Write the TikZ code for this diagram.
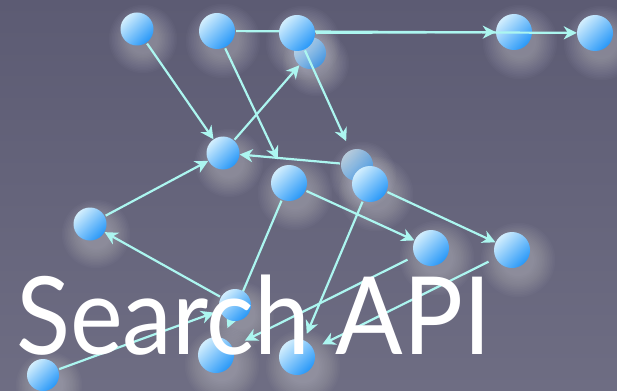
\documentclass[tikz,border=0pt]{standalone}
\usepackage{fontspec}
\newfontfamily\titlefont{Lato}
\usetikzlibrary{arrows.meta}
\pgfdeclarelayer{back}
\pgfdeclarelayer{ghost}
\pgfdeclarelayer{low}
\pgfdeclarelayer{edges}
\pgfdeclarelayer{front}
\pgfsetlayers{back,ghost,low,edges,main,front}

\definecolor{bgtop}{RGB}{92,91,115}
\definecolor{bgbot}{RGB}{110,109,131}
\definecolor{balllight}{RGB}{210,238,253}
\definecolor{balldark}{RGB}{40,152,248}
\definecolor{linkcol}{RGB}{172,246,240}

\tikzset{
  ball/.style={circle, inner sep=0pt, minimum size=#1,
    top color=balllight, bottom color=balldark, shading angle=45},
  ball/.default=36pt,
  ghostball/.style={ball=#1, opacity=0.72},
  ghostball/.default=32pt,
  link/.style={draw=linkcol, line width=2.2pt,
    -{Stealth[length=13pt,width=13pt,inset=4pt]}, shorten <=1pt},
  title/.style={text=white, inner sep=0pt, anchor=base west,
    font=\titlefont\fontsize{108}{108}\selectfont}
}

\begin{document}
\begin{tikzpicture}[x=1pt,y=-1pt]
\useasboundingbox (0,0) rectangle (617,390);

% backdrop
\begin{pgfonlayer}{back}
  \shade[top color=bgtop, bottom color=bgbot] (0,0) rectangle (617,390);
\end{pgfonlayer}

% nodes
\node[ball=33pt] (n1)  at (137,29)  {};
\node[ball]      (n2)  at (217,31)  {};
\node[ball]      (n3)  at (297,33)  {};
\begin{pgfonlayer}{ghost}
  \node[ghostball] (g1) at (310,53)  {};
  \node[ghostball] (g2) at (357,165) {};
\end{pgfonlayer}
\begin{pgfonlayer}{low}
  \node[ball]    (n4)  at (514,32)  {};
\end{pgfonlayer}
\node[ball]      (n5)  at (595,33)  {};
\node[ball=33pt] (n6)  at (223,153) {};
\node[ball]      (n8)  at (289,183) {};
\node[ball]      (n9)  at (370,184) {};
\node[ball=33pt] (n10) at (90,224)  {};
\node[ball]      (n11) at (431,248) {};
\node[ball]      (n12) at (512,250) {};
\node[ball=32pt] (n13) at (235,305) {};
\node[ball]      (n14) at (216,355) {};
\node[ball]      (n15) at (297,357) {};
\node[ball=32pt] (n16) at (43,375)  {};

% soft glow under each ball, thrown down and to the right
\begin{pgfonlayer}{back}
  \foreach \p/\r in {n1/16.5,n2/18,n3/18,g1/16,n4/18,n5/18,n6/16.5,g2/16,
                     n8/18,n9/18,n10/16.5,n11/18,n12/18,n13/16,n14/18,n15/18,n16/16}{
    \foreach \k in {0,...,13}{
      \pgfmathsetmacro\rr{\r*(0.9+0.09*\k)}
      \fill[white,opacity=0.022] ([shift={(6,10)}]\p.center) circle[radius=\rr pt];
    }
  }
\end{pgfonlayer}

% connectors
\begin{pgfonlayer}{edges}
  \draw[link] (n1) -- (n6);
  \draw[link] (n2) -- (n5);
  \draw[link] (n3) -- (n4);
  \draw[link, shorten >=8pt] (n2) -- (n8);
  \draw[link, shorten >=10pt] (n3) -- (g2);
  \draw[link] (n6) -- (g1);
  \draw[link] (g2) -- (n6);
  \draw[link] (n10) -- (n6);
  \draw[link] (n13) -- (n10);
  \draw[link, shorten >=11pt] (n8) -- (n14);
  \draw[link] (n8) -- (n11);
  \draw[link] (n9) -- (n12);
  \draw[link, shorten >=7pt] (n9) -- (n15);
  \draw[link, shorten >=14pt, shorten <=8pt] (n11) -- (n14);
  \draw[link, shorten >=10pt, shorten <=8pt] (n12) -- (n15);
  \draw[link, shorten >=6pt] (n16) -- (n13);
\end{pgfonlayer}

% caption
\begin{pgfonlayer}{front}
  \node[title] (caption) at (16,354) {\scalebox{0.925}[1]{Search API}};
\end{pgfonlayer}
\end{tikzpicture}
\end{document}
